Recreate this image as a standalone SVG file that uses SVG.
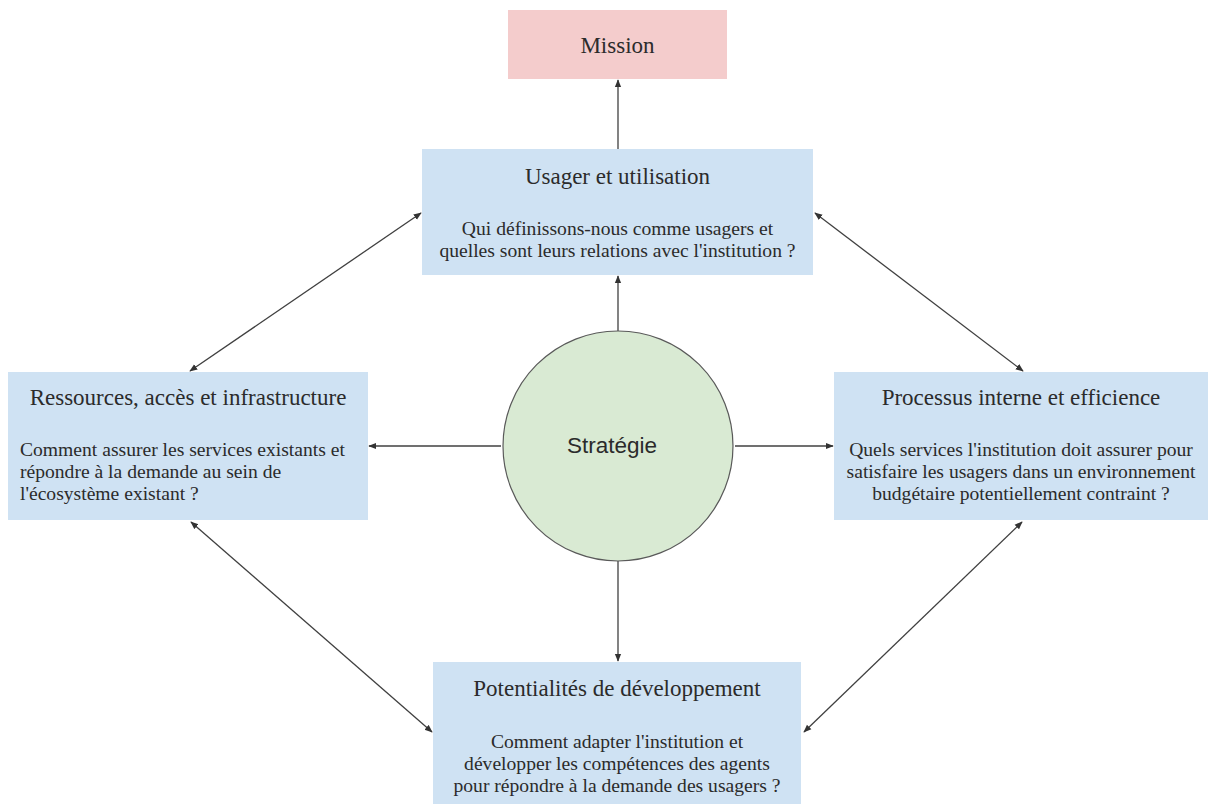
<svg xmlns="http://www.w3.org/2000/svg" width="1210" height="804" viewBox="0 0 1210 804">
  <style>
    .box { fill: #cfe2f3; }
    .mission { fill: #f4cccc; }
    .hub { fill: #d9ead3; stroke: #595959; stroke-width: 1.2; }
    .title { font-family: "Liberation Serif", "Times New Roman", serif; font-size: 23px; fill: #2b2b2b; text-anchor: middle; }
    .body { font-family: "Liberation Serif", "Times New Roman", serif; font-size: 19.6px; fill: #2b2b2b; text-anchor: middle; }
    .left { text-anchor: start; }
    .hubtext { font-family: "Liberation Sans", Arial, sans-serif; font-size: 22.5px; fill: #2b2b2b; text-anchor: middle; }
    .link { stroke: #404040; stroke-width: 1.3; fill: none; }
  </style>
  <defs>
    <marker id="arrow" viewBox="0 0 10 10" refX="9" refY="5" markerWidth="8" markerHeight="8" markerUnits="userSpaceOnUse" orient="auto-start-reverse">
      <path d="M0,1 L10,5 L0,9 z" fill="#333333"/>
    </marker>
  </defs>

  <rect width="1210" height="804" fill="#ffffff"/>

  <!-- connectors -->
  <g id="connectors">
    <line class="link" x1="618" y1="149" x2="618" y2="80" marker-end="url(#arrow)"/>
    <line class="link" x1="618" y1="331" x2="618" y2="276" marker-end="url(#arrow)"/>
    <line class="link" x1="501" y1="446" x2="369" y2="446" marker-end="url(#arrow)"/>
    <line class="link" x1="735" y1="446" x2="833" y2="446" marker-end="url(#arrow)"/>
    <line class="link" x1="618" y1="561" x2="618" y2="661" marker-end="url(#arrow)"/>
    <line class="link" x1="421" y1="213" x2="190" y2="371" marker-start="url(#arrow)" marker-end="url(#arrow)"/>
    <line class="link" x1="815" y1="213" x2="1023" y2="371" marker-start="url(#arrow)" marker-end="url(#arrow)"/>
    <line class="link" x1="191" y1="522" x2="432" y2="732" marker-start="url(#arrow)" marker-end="url(#arrow)"/>
    <line class="link" x1="1022" y1="522" x2="804" y2="732" marker-start="url(#arrow)" marker-end="url(#arrow)"/>
  </g>

  <g id="mission">
    <rect class="mission" x="508" y="10" width="219" height="69"/>
    <text class="title" x="617.5" y="53">Mission</text>
  </g>

  <g id="usager">
    <rect class="box" x="422" y="149" width="391" height="126"/>
    <text class="title" x="617.5" y="184">Usager et utilisation</text>
    <text class="body" x="617.5" y="235">Qui définissons-nous comme usagers et</text>
    <text class="body" x="617.5" y="257">quelles sont leurs relations avec l'institution ?</text>
  </g>

  <g id="ressources">
    <rect class="box" x="8" y="372" width="360" height="148"/>
    <text class="title" x="188" y="405">Ressources, accès et infrastructure</text>
    <text class="body left" x="20" y="456">Comment assurer les services existants et</text>
    <text class="body left" x="20" y="478">répondre à la demande au sein de</text>
    <text class="body left" x="20" y="500">l'écosystème existant ?</text>
  </g>

  <g id="strategie">
    <circle class="hub" cx="618" cy="446" r="115"/>
    <text class="hubtext" x="612" y="453">Stratégie</text>
  </g>

  <g id="processus">
    <rect class="box" x="834" y="372" width="374" height="148"/>
    <text class="title" x="1021" y="405">Processus interne et efficience</text>
    <text class="body" x="1021" y="456">Quels services l'institution doit assurer pour</text>
    <text class="body" x="1021" y="478">satisfaire les usagers dans un environnement</text>
    <text class="body" x="1021" y="500">budgétaire potentiellement contraint ?</text>
  </g>

  <g id="potentialites">
    <rect class="box" x="433" y="662" width="368" height="150"/>
    <text class="title" x="617" y="696">Potentialités de développement</text>
    <text class="body" x="617" y="748">Comment adapter l'institution et</text>
    <text class="body" x="617" y="770">développer les compétences des agents</text>
    <text class="body" x="617" y="792">pour répondre à la demande des usagers ?</text>
  </g>
</svg>
